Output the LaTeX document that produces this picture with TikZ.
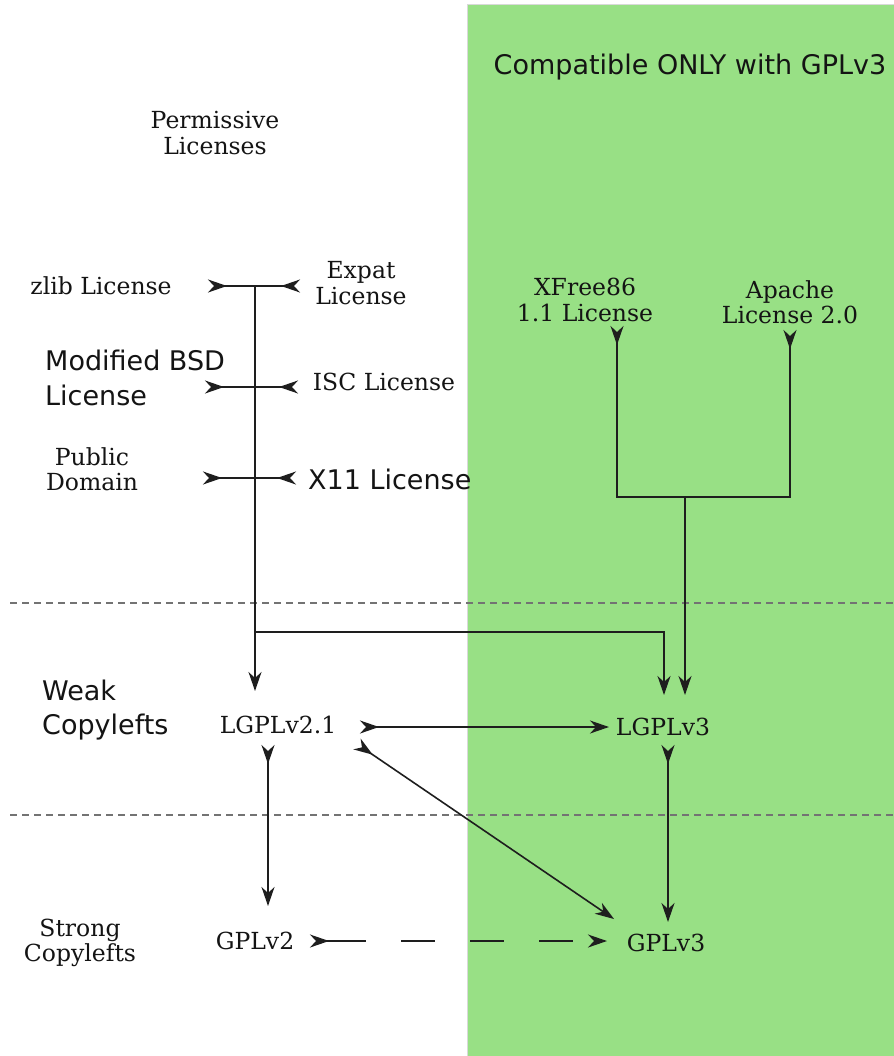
\documentclass[tikz,border=0pt]{standalone}
\usepackage{fontspec}
\setmainfont{DejaVu Serif}
\setsansfont{DejaVu Sans}
\usetikzlibrary{arrows.meta}
\definecolor{zonegreen}{RGB}{152,224,133}
\definecolor{lnk}{RGB}{30,30,30}
\begin{document}
\begin{tikzpicture}[x=1pt,y=-1pt,
  serlab/.style={font=\fontsize{23.5}{25.5}\selectfont, align=center, inner sep=0pt, text=black!92},
  sanlab/.style={font=\sffamily\fontsize{27}{35}\selectfont, align=left, inner sep=0pt, text=black!92},
  link/.style={draw=lnk, line width=1.6pt},
  inout/.style={link, arrows={Stealth[reversed,length=19pt,width=13pt,inset=6pt]-Stealth[reversed,length=19pt,width=13pt,inset=6pt]}},
  flow/.style={link, arrows={Stealth[reversed,length=19pt,width=13pt,inset=6pt]-Stealth[length=19pt,width=13pt,inset=6pt]}},
  tailonly/.style={link, arrows={Stealth[reversed,length=19pt,width=13pt,inset=6pt]-}},
  down/.style={link, -{Stealth[length=19pt,width=13pt,inset=6pt]}},
  sep/.style={draw=black!55, line width=2pt, dash pattern=on 7pt off 5pt}
]
\useasboundingbox (0,0) rectangle (893,1056);
\fill[white] (0,0) rectangle (893,1056);
\path[fill=zonegreen, draw=black!15, line width=1pt] (467,5) rectangle (894,1057);

% separators
\draw[sep] (10,603) -- (893,603);
\draw[sep] (10,815) -- (893,815);

% labels
\node[sanlab] (compat) at (690,67) {Compatible ONLY with GPLv3};
\node[serlab] (perm) at (215,133) {Permissive\\Licenses};
\node[serlab] (zlib) at (101,286) {zlib License};
\node[serlab] (expat) at (361,283) {Expat\\License};
\node[sanlab, anchor=west] (bsd) at (45,378) {Modified BSD\\License};
\node[serlab] (isc) at (384,382) {ISC License};
\node[serlab] (pd) at (92,469) {Public\\Domain};
\node[sanlab, anchor=west] (x11) at (308,479) {X11 License};
\node[serlab] (xfree) at (585,300) {XFree86\\1.1 License};
\node[serlab] (apache) at (790,302) {Apache\\License 2.0};
\node[sanlab, anchor=west, font=\sffamily\fontsize{27}{34}\selectfont] (weak) at (42,710) {Weak\\Copylefts};
\node[serlab] (lgpl21) at (278,725) {LGPLv2.1};
\node[serlab] (lgpl3) at (663,727) {LGPLv3};
\node[serlab] (strong) at (80,943) {Strong\\Copylefts};
\node[serlab] (gpl2) at (255,941) {GPLv2};
\node[serlab] (gpl3) at (666,943) {GPLv3};

% coordinates
\coordinate (zl) at (208,286);  \coordinate (zr) at (300,286);
\coordinate (bl) at (205,387);  \coordinate (br) at (298,387);
\coordinate (pl) at (203,478);  \coordinate (pr) at (296,478);
\coordinate (trunk) at (255,286);
\coordinate (lg21in) at (255,691);
\coordinate (branch) at (255,632);
\coordinate (lg3inA) at (664,695);
\coordinate (xf) at (617,326);
\coordinate (ap) at (790,330);
\coordinate (join) at (685,497);
\coordinate (lg3inB) at (685,695);
\coordinate (l21r) at (360,727);
\coordinate (l3l) at (609,727);
\coordinate (l21d) at (268,745);
\coordinate (g2up) at (268,906);
\coordinate (l21se) at (357,744);
\coordinate (g3nw) at (614,919);
\coordinate (l3d) at (668,745);
\coordinate (g3up) at (668,922);
\coordinate (g2r) at (310,941);
\coordinate (g3l) at (607,941);

% permissive group
\draw[inout] (zl) -- (zr);
\draw[inout] (bl) -- (br);
\draw[inout] (pl) -- (pr);
\draw[down] (trunk) -- (lg21in);
\draw[down] (branch) -| (lg3inA);

% GPLv3-only group
\draw[tailonly] (xf) |- (join);
\draw[tailonly] (ap) |- (join);
\draw[down] (join) -- (lg3inB);

% copyleft relations
\draw[flow] (l21r) -- (l3l);
\draw[flow] (l21d) -- (g2up);
\draw[flow] (l21se) -- (g3nw);
\draw[flow] (l3d) -- (g3up);
\draw[flow, dash pattern=on 40pt off 35pt on 34pt off 35pt on 34pt off 35pt on 34pt off 35pt] (g2r) -- (g3l);
\end{tikzpicture}
\end{document}
